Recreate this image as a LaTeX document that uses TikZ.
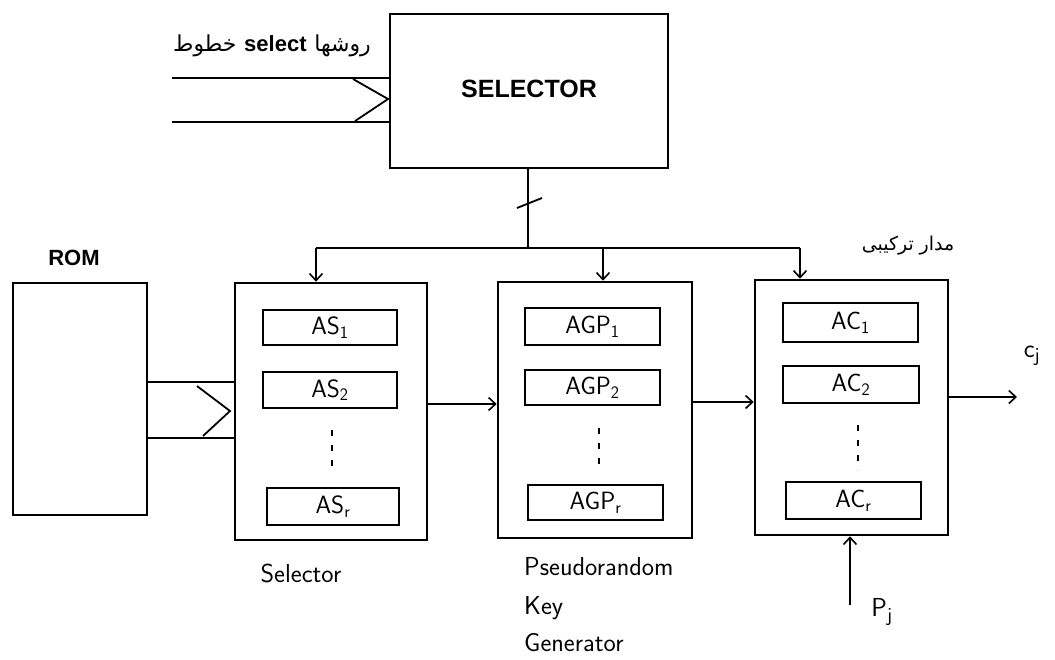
\documentclass[tikz,border=0pt]{standalone}
\usepackage{fontspec}
\usetikzlibrary{arrows.meta}
\newfontfamily\arialfont{Liberation Sans}
\newfontfamily\arabicfont[Script=Arabic]{DejaVu Sans}
\newcommand{\fs}[1]{\fontsize{#1}{#1}\selectfont}
% one right-to-left word, kept in its own box so words stay in the order written here
\newcommand{\rlword}[1]{\hbox{\arabicfont #1}}

\tikzset{
  bigbox/.style={draw, line width=2.6pt, inner sep=0pt},
  cell/.style={draw, line width=2.4pt, inner sep=0pt, font=\sffamily\fs{25}},
  wire/.style={line width=1.8pt},
  flow/.style={line width=1.8pt, -{Straight Barb[length=7pt,width=13pt,line width=1.6pt]}},
  dotsv/.style={line width=1.6pt, dash pattern=on 6pt off 9pt},
  hand/.style={font=\sffamily\fs{26}, inner sep=0pt},
  caps/.style={font=\arialfont\bfseries\fs{22}, inner sep=0pt}
}

\begin{document}
\begin{tikzpicture}[x=1pt, y=-1pt]
\useasboundingbox[fill=white] (0,0) rectangle (1055,659);

% main blocks
\node[bigbox, minimum width=278pt, minimum height=154pt, caps, font=\arialfont\bfseries\fs{25}] (sel) at (529,91) {\raisebox{4pt}{SELECTOR}};
\node[bigbox, minimum width=134pt, minimum height=232pt] (rom) at (80,399) {};
\node[caps] (romlab) at (74,258) {ROM};

\node[bigbox, minimum width=192pt, minimum height=257pt] (as) at (331,411.5) {};
\node[bigbox, minimum width=194pt, minimum height=256pt] (kg) at (595,410) {};
\node[bigbox, minimum width=193pt, minimum height=255pt] (ac) at (851.5,407.5) {};

% cells of the selector block
\node[cell, minimum width=134pt, minimum height=35pt] (as1) at (330,327.5) {AS\textsubscript{1}};
\node[cell, minimum width=134pt, minimum height=36pt] (as2) at (330,390) {AS\textsubscript{2}};
\node[cell, minimum width=132pt, minimum height=37pt] (asr) at (333,506.5) {AS\textsubscript{r}};
\draw[dotsv] (332,430) -- (332,470);

% cells of the key generator
\node[cell, minimum width=135pt, minimum height=37pt] (agp1) at (592.5,326.5) {AGP\textsubscript{1}};
\node[cell, minimum width=135pt, minimum height=35pt] (agp2) at (592.5,387.5) {AGP\textsubscript{2}};
\node[cell, minimum width=135pt, minimum height=35pt] (agpr) at (595.5,502.5) {AGP\textsubscript{r}};
\draw[dotsv] (599,428) -- (599,470);

% cells of the combining circuit
\node[cell, minimum width=135pt, minimum height=39pt] (ac1) at (850.5,322.5) {AC\textsubscript{1}};
\node[cell, minimum width=136pt, minimum height=37pt] (ac2) at (851,384.5) {AC\textsubscript{2}};
\node[cell, minimum width=135pt, minimum height=37pt] (acr) at (853.5,500.5) {AC\textsubscript{r}};
\draw[dotsv] (858,425) -- (858,470);

% method-select lines into the SELECTOR (words set left to right as they appear)
\node[inner sep=0pt, font=\arabicfont\fs{22}] (msl) at (272,46)
  {\rlword{خطوط}\hspace{0.35em}{\arialfont\bfseries select}\hspace{0.35em}\rlword{روشها}};
\coordinate (l1) at (172,78);
\coordinate (l2) at (172,122);
\draw[wire] (l1) -- (l1 -| sel.west);
\draw[wire] (l2) -- (l2 -| sel.west);
\draw[wire] (353,79) -- (388,99) -- (355,121);

% ROM to selector block
\coordinate (r1) at (rom.east |- 0,382);
\coordinate (r2) at (rom.east |- 0,438);
\draw[wire] (r1) -- (r1 -| as.west);
\draw[wire] (r2) -- (r2 -| as.west);
\draw[wire] (197,386) -- (230,411) -- (203,436);

% control bus from the SELECTOR
\coordinate (bus) at (528,248);
\coordinate (busl) at (316,248);
\coordinate (busr) at (800,248);
\draw[wire] (sel.south -| bus) -- (bus);
\draw[wire] (517,208) -- (542,198);
\draw[wire] (busl) -- (busr);
\draw[flow] (busl) -- (busl |- as.north);
\draw[flow] (603,248) -- (603,0 |- kg.north);
\draw[flow] (busr) -- (busr |- ac.north);

% data path
\draw[flow] (as.east |- 0,404) -- (kg.west |- 0,404);
\draw[flow] (kg.east |- 0,402) -- (ac.west |- 0,402);
\coordinate (cout) at (1017,397);
\draw[flow] (ac.east |- cout) -- (cout);
\node[hand] (cj) at (1032,356) {c\textsubscript{\fs{20}j}};
\coordinate (pin) at (850,605);
\draw[flow] (pin) -- (pin |- ac.south);
\node[hand] (pj) at (882,612) {P\textsubscript{\fs{20}j}};

% captions
\node[hand] (cap1) at (301,573) {Selector};
\node[hand, anchor=west] (cap2a) at (524,567) {Pseudorandom};
\node[hand, anchor=west] (cap2b) at (524,608) {Key};
\node[hand, anchor=west] (cap2c) at (524,643) {Generator};
\node[inner sep=0pt, font=\arabicfont\fs{19}] (cap3) at (908,246)
  {\rlword{ترکیبی}\hspace{0.3em}\rlword{مدار}};
\end{tikzpicture}
\end{document}
